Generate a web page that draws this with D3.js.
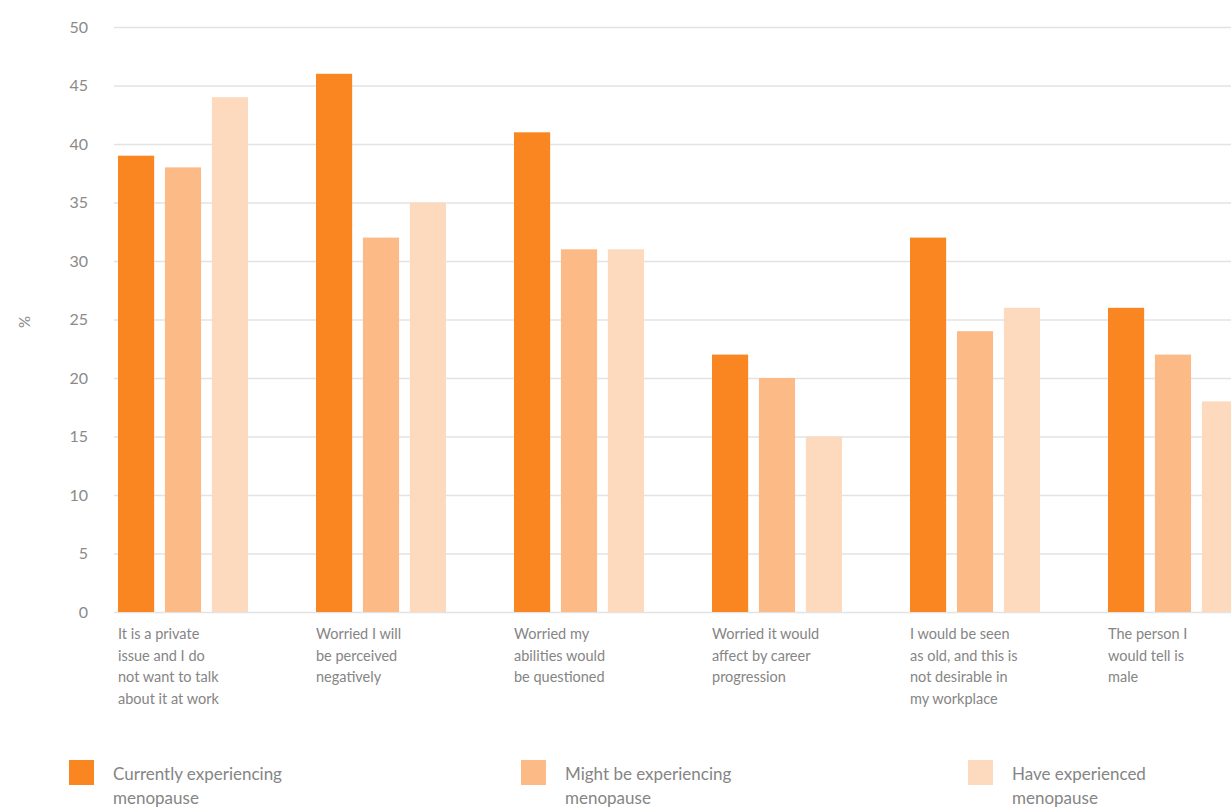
<!DOCTYPE html>
<html>
<head>
<meta charset="utf-8">
<script src="https://cdn.jsdelivr.net/npm/d3@7"></script>
<style>
  body { margin: 0; background: #fff; }
  svg { display: block; font-family: Lato, "Open Sans", sans-serif; }
</style>
</head>
<body>
<div id="chart"></div>
<script>
const categories = [
  ["It is a private", "issue and I do", "not want to talk", "about it at work"],
  ["Worried I will", "be perceived", "negatively"],
  ["Worried my", "abilities would", "be questioned"],
  ["Worried it would", "affect by career", "progression"],
  ["I would be seen", "as old, and this is", "not desirable in", "my workplace"],
  ["The person I", "would tell is", "male"]
];
const seriesNames = ["Currently experiencing menopause", "Might be experiencing menopause", "Have experienced menopause"];
const legendLines = [
  ["Currently experiencing", "menopause"],
  ["Might be experiencing", "menopause"],
  ["Have experienced", "menopause"]
];
const currently = [39, 46, 41, 22, 32, 26];
const might = [38, 32, 31, 20, 24, 22];
const have = [44, 35, 31, 15, 26, 18];
const yTicks = [0, 5, 10, 15, 20, 25, 30, 35, 40, 45, 50];
const colors = ["#f98621", "#fcba87", "#fdd9bd"];

const width = 1231, height = 812;
const plotLeft = 118, plotTop = 27, plotBottom = 612;

const svg = d3.select("#chart").append("svg")
  .attr("width", width)
  .attr("height", height);

const keys = categories.map((c, i) => "c" + i);
const values = [currently, might, have];

const y = d3.scaleLinear().domain([0, 50]).range([plotBottom, plotTop]);

// group step 198, group width 130
const x0 = d3.scaleBand()
  .domain(keys)
  .range([plotLeft, plotLeft + 5 * 198 + 130])
  .paddingInner(68 / 198)
  .paddingOuter(0);

const x1 = d3.scaleBand()
  .domain(seriesNames)
  .range([0, x0.bandwidth()])
  .paddingInner(0.23)
  .paddingOuter(0);

// gridlines
svg.append("g")
  .attr("transform", `translate(${plotLeft - 4},0)`)
  .call(d3.axisLeft(y).tickValues(yTicks).tickSize(-(width - plotLeft + 4)).tickFormat(""))
  .call(g => g.select(".domain").remove())
  .selectAll("line")
  .attr("stroke", "#e3e3e3")
  .attr("stroke-width", 1.6);

// y tick labels
svg.append("g")
  .attr("transform", "translate(88,0)")
  .call(d3.axisLeft(y).tickValues(yTicks).tickSize(0).tickPadding(0))
  .call(g => g.select(".domain").remove())
  .selectAll("text")
  .attr("fill", "#8a8a8a")
  .style("font-size", "16px")
  .style("font-family", "Lato, sans-serif");

svg.append("text")
  .attr("transform", "translate(26,322) rotate(-90)")
  .attr("text-anchor", "middle")
  .attr("dominant-baseline", "middle")
  .attr("fill", "#8a8a8a")
  .attr("font-size", "15px")
  .text("%");

// bars
const groups = svg.append("g").selectAll("g")
  .data(keys)
  .join("g")
  .attr("transform", d => `translate(${x0(d)},0)`);

groups.selectAll("rect")
  .data((d, i) => seriesNames.map((s, j) => ({ s, j, v: values[j][i] })))
  .join("rect")
  .attr("x", d => x1(d.s))
  .attr("y", d => y(d.v))
  .attr("width", x1.bandwidth())
  .attr("height", d => y(0) - y(d.v))
  .attr("fill", d => colors[d.j]);

// x labels
const xAxis = svg.append("g")
  .attr("transform", `translate(0,${plotBottom})`)
  .call(d3.axisBottom(x0).tickSize(0).tickFormat(""))
  .call(g => g.select(".domain").remove());

xAxis.selectAll(".tick").each(function (d, i) {
  const t = d3.select(this).select("text")
    .attr("x", -x0.bandwidth() / 2)
    .attr("y", 0)
    .attr("dy", null)
    .attr("text-anchor", "start")
    .attr("fill", "#858585")
    .style("font-size", "14.5px")
    .style("font-family", "Lato, sans-serif");
  categories[i].forEach((line, k) => {
    t.append("tspan")
      .attr("x", -x0.bandwidth() / 2)
      .attr("y", 27 + k * 21.7)
      .text(line);
  });
});

// legend
const legendX = [69, 521, 968];
const legend = svg.append("g").selectAll("g")
  .data(seriesNames)
  .join("g")
  .attr("transform", (d, i) => `translate(${legendX[i]},760)`);

legend.append("rect")
  .attr("width", 25)
  .attr("height", 25)
  .attr("fill", (d, i) => colors[i]);

legend.append("text")
  .attr("fill", "#858585")
  .attr("font-size", "17px")
  .each(function (d, i) {
    legendLines[i].forEach((line, k) => {
      d3.select(this).append("tspan")
        .attr("x", 44)
        .attr("y", 20 + k * 24)
        .text(line);
    });
  });
</script>
</body>
</html>
